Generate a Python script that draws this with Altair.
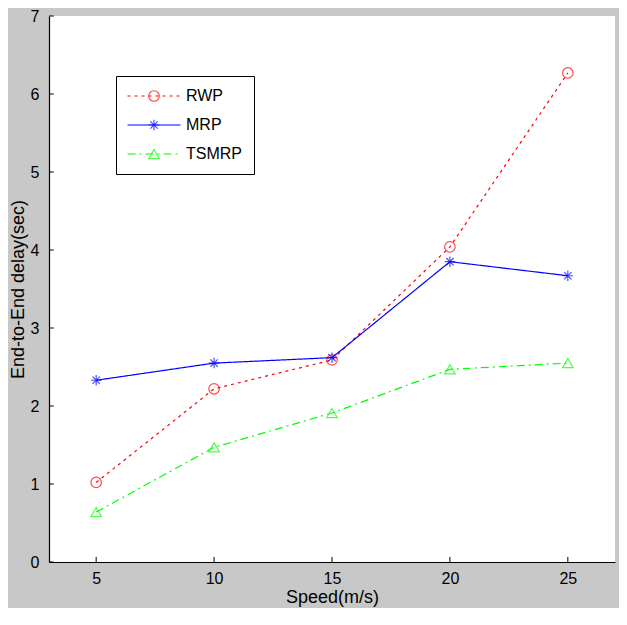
import altair as alt
import pandas as pd

# ---- data ----
speeds = [5, 10, 15, 20, 25]
rwp = [1.02, 2.22, 2.59, 4.04, 6.27]
mrp = [2.33, 2.55, 2.62, 3.85, 3.67]
tsmrp = [0.64, 1.47, 1.91, 2.47, 2.55]

series_names = ["RWP", "MRP", "TSMRP"]
series_colors = ["#ff0000", "#0000ff", "#00ff00"]
series_dashes = [[3, 4], [1, 0], [8, 4, 2, 4]]
asterisk = "M0,-1L0,1M-1,0L1,0M-0.7,-0.7L0.7,0.7M-0.7,0.7L0.7,-0.7"
series_shapes = ["circle", asterisk, "triangle-up"]
marker_keys = [n + "_m" for n in series_names]

x_ticks = [5, 10, 15, 20, 25]
y_ticks = [0, 1, 2, 3, 4, 5, 6, 7]

rows = []
for name, vals in zip(series_names, [rwp, mrp, tsmrp]):
    for s, v in zip(speeds, vals):
        rows.append({"speed": s, "delay": v, "series": name, "marker": name + "_m"})
df = pd.DataFrame(rows)

FONT = "Liberation Sans"

x_scale = alt.Scale(domain=[3, 27], nice=False, zero=False)
y_scale = alt.Scale(domain=[0, 7], nice=False, zero=False)

x_enc = alt.X(
    "speed:Q", scale=x_scale,
    axis=alt.Axis(values=x_ticks, title="Speed(m/s)", ticks=False, grid=False,
                  format="d",
                  domainColor="#000000", domainWidth=1.2,
                  labelFont=FONT, labelFontSize=16, labelColor="#000000",
                  labelPadding=8, titleFont=FONT, titleFontSize=18,
                  titleFontWeight="normal", titleColor="#000000",
                  titleY=40, titleBaseline="alphabetic"))
y_enc = alt.Y(
    "delay:Q", scale=y_scale,
    axis=alt.Axis(values=y_ticks, title="End-to-End delay(sec)", ticks=False,
                  format="d",
                  grid=False, domainColor="#000000", domainWidth=1.2,
                  labelFont=FONT, labelFontSize=16, labelColor="#000000",
                  labelPadding=10, titleFont=FONT, titleFontSize=18,
                  titleFontWeight="normal", titleColor="#000000",
                  titleX=-31, titleAlign="center", titleBaseline="middle"))

color_scale = alt.Scale(domain=series_names, range=series_colors)
dash_scale = alt.Scale(domain=series_names, range=series_dashes)
stroke_scale = alt.Scale(domain=marker_keys, range=series_colors)
shape_scale = alt.Scale(domain=marker_keys, range=series_shapes)

LEG_X, LEG_Y = 67, 60
line_symbol = "M-5,0L5,0"

line_legend = alt.Legend(
    title=None, orient="none", legendX=LEG_X, legendY=LEG_Y,
    symbolType=line_symbol, symbolSize=112, symbolStrokeWidth=1.2,
    symbolOffset=18,
    labelFont=FONT, labelFontSize=16, labelColor="#000000", labelOffset=24,
    rowPadding=13, padding=12, fillColor="#ffffff", strokeColor="#000000",
    cornerRadius=0, zindex=1)
point_legend = alt.Legend(
    title=None, orient="none", legendX=LEG_X, legendY=LEG_Y,
    symbolSize=110, symbolStrokeWidth=1.2, symbolFillColor="transparent",
    symbolOffset=18, labelFont=FONT, labelFontSize=16, labelOpacity=0,
    labelExpr="' '",
    labelOffset=24, rowPadding=13, padding=12, zindex=2)

lines = alt.Chart(df).mark_line(strokeWidth=1.2).encode(
    x=x_enc, y=y_enc,
    color=alt.Color("series:N", scale=color_scale, legend=line_legend),
    strokeDash=alt.StrokeDash("series:N", scale=dash_scale, legend=line_legend),
)
points = alt.Chart(df).mark_point(filled=False, size=110, strokeWidth=1.2).encode(
    x="speed:Q", y="delay:Q",
    stroke=alt.Stroke("marker:N", scale=stroke_scale, legend=point_legend),
    shape=alt.Shape("marker:N", scale=shape_scale, legend=point_legend),
)

xt = pd.DataFrame({"t": x_ticks})
yt = pd.DataFrame({"t": y_ticks})
x_tick_marks = alt.Chart(xt).mark_rule(color="#000000", strokeWidth=1).encode(
    x="t:Q", y=alt.datum(0), y2=alt.datum(0.065))
y_tick_marks = alt.Chart(yt).mark_rule(color="#000000", strokeWidth=1).encode(
    y="t:Q", x=alt.datum(3), x2=alt.datum(3.2))

chart = alt.layer(x_tick_marks, y_tick_marks, lines, points).properties(
    width=566, height=546,
    autosize=alt.AutoSizeParams(type="none"),
    padding={"left": 41, "top": 8, "right": 4, "bottom": 46},
    background="#c8c8c8",
).configure_view(fill="#ffffff", stroke=None)

chart.save("out.html", embed_options={"renderer": "svg", "actions": False})
